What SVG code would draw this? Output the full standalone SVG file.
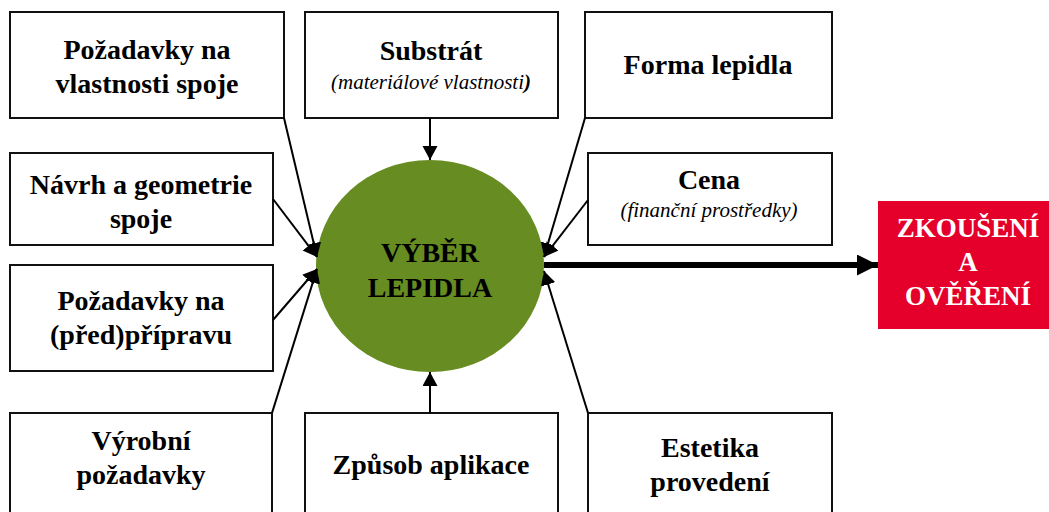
<svg xmlns="http://www.w3.org/2000/svg" width="1049" height="512" viewBox="0 0 1049 512">
<style>
.box{fill:#fff;stroke:#111;stroke-width:2}
.t{font-family:"Liberation Serif","Times New Roman",serif;font-weight:bold;font-size:28px;fill:#000;text-anchor:middle}
.i{font-family:"Liberation Serif","Times New Roman",serif;font-style:italic;font-size:21px;fill:#000;text-anchor:middle}
.w{font-family:"Liberation Serif","Times New Roman",serif;font-weight:bold;font-size:27px;fill:#fff;text-anchor:middle}
.c{stroke:#000;stroke-width:2;fill:none}
</style>
<defs>
<marker id="ah" markerUnits="userSpaceOnUse" markerWidth="16" markerHeight="16" refX="14" refY="7.5" orient="auto">
<path d="M0,0 L14,7.5 L0,15 Z" fill="#000"/>
</marker>
<marker id="big" markerUnits="userSpaceOnUse" markerWidth="24" markerHeight="24" refX="21" refY="10.5" orient="auto">
<path d="M0,0 L21,10.5 L0,21 Z" fill="#000"/>
</marker>
</defs>

<g id="center">
<ellipse cx="430" cy="266" rx="114" ry="106" fill="#678c21"/>
<text class="t" x="430" y="262">VÝBĚR</text>
<text class="t" x="430" y="297">LEPIDLA</text>
</g>

<g id="n-vlastnosti">
<rect class="box" x="10" y="12" width="274" height="106"/>
<text class="t" x="147" y="59">Požadavky na</text>
<text class="t" x="147" y="93">vlastnosti spoje</text>
</g>
<g id="n-navrh">
<rect class="box" x="10" y="153" width="263" height="92"/>
<text class="t" x="141" y="194">Návrh a geometrie</text>
<text class="t" x="141" y="228">spoje</text>
</g>
<g id="n-priprava">
<rect class="box" x="10" y="265" width="263" height="106"/>
<text class="t" x="141" y="310">Požadavky na</text>
<text class="t" x="141" y="344">(před)přípravu</text>
</g>
<g id="n-vyrobni">
<rect class="box" x="10" y="413" width="262" height="110"/>
<text class="t" x="141" y="450">Výrobní</text>
<text class="t" x="141" y="484">požadavky</text>
</g>
<g id="n-substrat">
<rect class="box" x="305" y="12" width="253" height="106"/>
<text class="t" x="431" y="60">Substrát</text>
<text class="i" x="431" y="89">(materiálové vlastnosti<tspan font-weight="bold">)</tspan></text>
</g>
<g id="n-zpusob">
<rect class="box" x="305" y="413" width="253" height="110"/>
<text class="t" x="431" y="474">Způsob aplikace</text>
</g>
<g id="n-forma">
<rect class="box" x="585" y="12" width="247" height="106"/>
<text class="t" x="708" y="74">Forma lepidla</text>
</g>
<g id="n-cena">
<rect class="box" x="588" y="153" width="244" height="92"/>
<text class="t" x="709" y="189">Cena</text>
<text class="i" x="709" y="217">(finanční prostředky)</text>
</g>
<g id="n-estetika">
<rect class="box" x="588" y="413" width="244" height="110"/>
<text class="t" x="710" y="457">Estetika</text>
<text class="t" x="710" y="491">provedení</text>
</g>
<g id="n-zkouseni">
<rect x="878" y="201" width="180" height="128" fill="#e4002b"/>
<text class="w" x="968" y="237">ZKOUŠENÍ</text>
<text class="w" x="968" y="271">A</text>
<text class="w" x="968" y="305">OVĚŘENÍ</text>
</g>

<g id="connectors">
<line class="c" x1="284" y1="118" x2="317" y2="257" marker-end="url(#ah)"/>
<line class="c" x1="273" y1="199" x2="317" y2="257" marker-end="url(#ah)"/>
<line class="c" x1="273" y1="320" x2="317" y2="269" marker-end="url(#ah)"/>
<line class="c" x1="272" y1="413" x2="317" y2="269" marker-end="url(#ah)"/>
<line class="c" x1="430" y1="118" x2="430" y2="160" marker-end="url(#ah)"/>
<line class="c" x1="430" y1="413" x2="430" y2="372" marker-end="url(#ah)"/>
<line class="c" x1="585" y1="118" x2="544" y2="257" marker-end="url(#ah)"/>
<line class="c" x1="588" y1="200" x2="544" y2="257" marker-end="url(#ah)"/>
<line class="c" x1="588" y1="413" x2="544" y2="271" marker-end="url(#ah)"/>
<line x1="544" y1="265" x2="878" y2="265" stroke="#000" stroke-width="6" marker-end="url(#big)"/>
</g>
</svg>
